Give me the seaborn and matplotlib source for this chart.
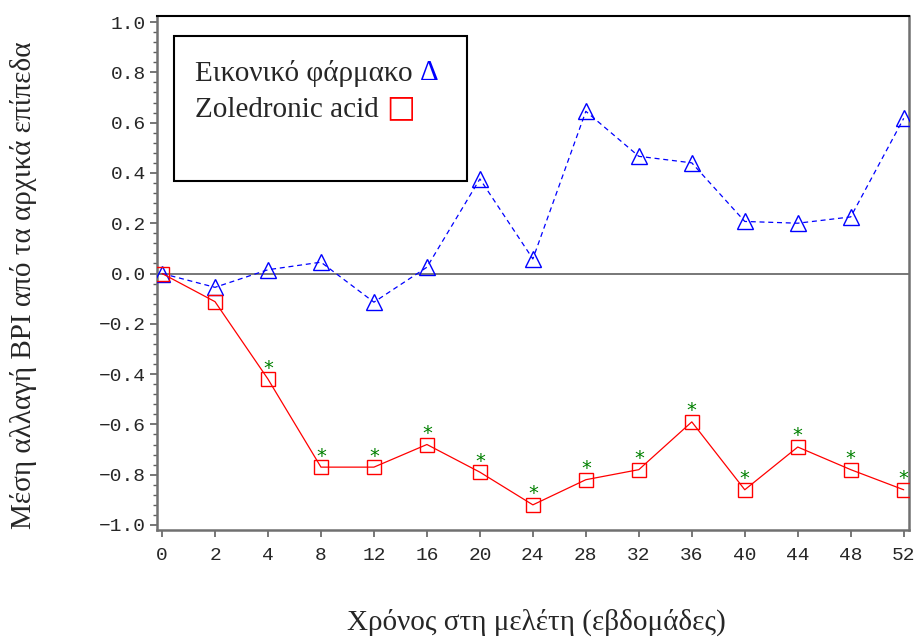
import matplotlib
matplotlib.use("Agg")
import matplotlib.pyplot as plt
from matplotlib.patches import Rectangle
from matplotlib.ticker import MultipleLocator
import pandas as pd
import seaborn as sns

# data
weeks = ["0", "2", "4", "8", "12", "16", "20", "24", "28", "32", "36", "40", "44", "48", "52"]
placebo = [0.00, -0.055, 0.015, 0.045, -0.114, 0.025, 0.376, 0.058, 0.645, 0.466, 0.44, 0.207, 0.20, 0.225, 0.617]
zoledronic = [0.00, -0.112, -0.42, -0.77, -0.77, -0.68, -0.79, -0.92, -0.82, -0.78, -0.59, -0.86, -0.69, -0.78, -0.86]
significant = [False, False, True, True, True, True, True, True, True, True, True, True, True, True, True]
yticks = [-1.0, -0.8, -0.6, -0.4, -0.2, 0.0, 0.2, 0.4, 0.6, 0.8, 1.0]

df = pd.DataFrame({
    "pos": range(len(weeks)),
    "week": weeks,
    "placebo": placebo,
    "zoledronic": zoledronic,
    "sig": significant,
})

sns.set_style("white")
serif = ["Liberation Serif", "DejaVu Serif"]
mono = ["Liberation Mono", "DejaVu Sans Mono"]

fig = plt.figure(figsize=(9.17, 6.37), dpi=100)
ax = fig.add_axes([157 / 917, 1 - 530 / 637, 752 / 917, 514 / 637])

ax.axhline(0, color="#606060", lw=1.2, zorder=1)

sns.lineplot(data=df, x="pos", y="placebo", ax=ax, color="blue", lw=0.9,
             marker="^", markersize=11, markerfacecolor="none",
             markeredgecolor="blue", markeredgewidth=1.0,
             linestyle=(0, (4, 3)), zorder=3)
sns.lineplot(data=df, x="pos", y="zoledronic", ax=ax, color="red", lw=0.9,
             marker="s", markersize=10, markerfacecolor="none",
             markeredgecolor="red", markeredgewidth=1.0, zorder=3)

# significance stars above zoledronic points
for _, row in df[df["sig"]].iterrows():
    ax.annotate("*", (row["pos"], row["zoledronic"]), xytext=(0, 8),
                textcoords="offset points", ha="center", va="center",
                color="green", fontsize=14, fontfamily="DejaVu Sans")

ax.set_xlim(-0.095, 14.1)
ax.set_ylim(-1.02, 1.024)
ax.set_xticks(df["pos"])
ax.set_xticklabels(weeks)
ax.yaxis.set_minor_locator(MultipleLocator(0.04))
ax.set_yticks(yticks)
ax.set_yticklabels([f"{v:.1f}".replace("-", "\u2212") for v in yticks])

ax.tick_params(axis="both", which="major", direction="out", length=5,
               width=1.2, color="#606060", labelsize=14, pad=3, left=True, bottom=True)
ax.tick_params(axis="x", which="major", pad=7)
ax.tick_params(axis="y", which="minor", direction="out", length=3,
               width=1.0, color="#606060", left=True)
for lab in ax.get_xticklabels() + ax.get_yticklabels():
    lab.set_fontfamily(mono)

for side in ["left", "bottom", "right"]:
    ax.spines[side].set_color("#707070")
    ax.spines[side].set_linewidth(1.8)
ax.spines["top"].set_color("black")
ax.spines["top"].set_linewidth(1.5)

ax.set_xlabel("")
ax.set_ylabel("")
fig.text(536 / 917, 1 - 622 / 637, "Χρόνος στη μελέτη (εβδομάδες)",
         ha="center", va="center", fontsize=21, family=serif)
fig.text(24 / 917, 1 - 285 / 637, "Μέση αλλαγή BPI από τα αρχικά επίπεδα",
         ha="center", va="center", rotation=90, fontsize=21, family=serif)

# legend box drawn by hand (marker symbol follows the label)
ax.add_patch(Rectangle((0.0226, 0.679), 0.389, 0.282, transform=ax.transAxes,
                       fill=True, facecolor="white", edgecolor="black", lw=1.5, zorder=4))
t1 = ax.text(0.0505, 0.889, "Εικονικό φάρμακο ", transform=ax.transAxes,
             ha="left", va="center", fontsize=21, family=serif, zorder=5)
t2 = ax.text(0.0505, 0.817, "Zoledronic acid ", transform=ax.transAxes,
             ha="left", va="center", fontsize=21, family=serif, zorder=5)
fig.canvas.draw()
inv = ax.transAxes.inverted()
e1 = inv.transform(t1.get_window_extent().get_points())
e2 = inv.transform(t2.get_window_extent().get_points())
ax.text(e1[1][0], 0.889, "Δ", transform=ax.transAxes, ha="left", va="center",
        fontsize=21, family=serif, color="blue", zorder=5)
ax.text(e2[1][0], 0.822, "\u25a1", transform=ax.transAxes, ha="left", va="center",
        fontsize=22, family=["DejaVu Sans"], color="red", zorder=5)

fig.savefig("out.png", dpi=100)
